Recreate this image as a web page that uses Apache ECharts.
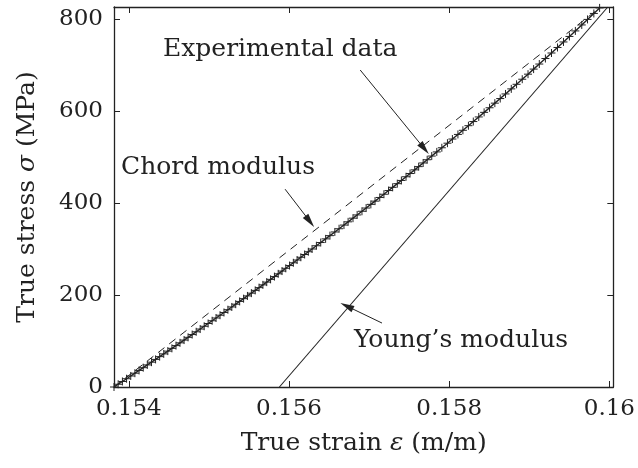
<!DOCTYPE html>
<html><head><meta charset="utf-8">
<script src="https://cdn.jsdelivr.net/npm/echarts@6/dist/echarts.min.js"></script>
<style>html,body{margin:0;padding:0;background:#fff}#c{width:638px;height:468px}</style>
</head><body><div id="c"></div>
<script>
// Experimental data (true strain, true stress in MPa)
const strain = [
0.153815,0.153867,0.153920,0.153972,0.154024,0.154076,0.154128,0.154180,0.154231,0.154283,
0.154334,0.154385,0.154436,0.154487,0.154538,0.154589,0.154639,0.154690,0.154740,0.154791,
0.154841,0.154891,0.154941,0.154990,0.155040,0.155089,0.155139,0.155188,0.155237,0.155286,
0.155335,0.155384,0.155433,0.155481,0.155530,0.155578,0.155626,0.155674,0.155722,0.155770,
0.155818,0.155865,0.155913,0.155960,0.156007,0.156054,0.156101,0.156148,0.156195,0.156241,
0.156288,0.156342,0.156396,0.156457,0.156511,0.156572,0.156625,0.156686,0.156738,0.156799,
0.156851,0.156911,0.156963,0.157022,0.157074,0.157133,0.157185,0.157243,0.157294,0.157352,
0.157403,0.157461,0.157511,0.157569,0.157619,0.157675,0.157725,0.157782,0.157845,0.157908,
0.157978,0.158040,0.158109,0.158171,0.158240,0.158301,0.158369,0.158436,0.158504,0.158570,
0.158637,0.158703,0.158775,0.158841,0.158912,0.158984,0.159054,0.159125,0.159201,0.159277,
0.159352,0.159427,0.159501,0.159575,0.159655,0.159727,0.159806,0.159878
];
const stress = [
0,6,12,18,24,30,36,42,48,54,
60,66,72,78,84,90,96,102,108,114,
120,126,132,138,144,150,156,162,168,174,
180,186,192,198,204,210,216,222,228,234,
240,246,252,258,264,270,276,282,288,294,
300,307,314,322,329,337,344,352,359,367,
374,382,389,397,404,412,419,427,434,442,
449,457,464,472,479,487,494,502,511,520,
530,539,549,558,568,577,587,597,607,617,
627,637,648,658,669,680,691,702,714,726,
738,750,762,774,787,799,812,824
];
// Chord modulus line (dashed)
const chordStrain = [0.153815, 0.159878];
const chordStress = [0, 824];
// Young's modulus line (solid)
const youngStrain = [0.15588, 0.15998];
const youngStress = [0, 826];
// Axes
const xTicks = [0.154, 0.156, 0.158, 0.16];
const yTicks = [0, 200, 400, 600, 800];
const xMin = 0.153815, xMax = 0.160049;
const yMin = 0, yMax = 826;

const pairs = (xs, ys) => xs.map((x, i) => [x, ys[i]]);
const INK = '#222';
const FONT = '"DejaVu Serif", "Liberation Serif", serif';

const chart = echarts.init(document.getElementById('c'), null, {renderer: 'canvas'});

const axisCommon = {
  type: 'value',
  axisLine: {show: true, onZero: false, lineStyle: {color: INK, width: 1.3}},
  splitLine: {show: false},
};

const arrowLine = (from, to) => [{coord: from}, {coord: to}];

chart.setOption({
  animation: false,
  backgroundColor: '#fff',
  grid: {left: 114, right: 20, top: 7, bottom: 81, containLabel: false},
  xAxis: [
    Object.assign({}, axisCommon, {
      min: xMin, max: xMax, position: 'bottom',
      axisTick: {show: true, inside: true, length: 6, customValues: xTicks, lineStyle: {color: INK}},
      axisLabel: {show: true, customValues: xTicks, margin: 11, color: INK, fontFamily: FONT, fontSize: 23,
        formatter: v => String(+v.toFixed(3))},
      name: 'True strain {i|ε} (m/m)', nameLocation: 'middle', nameGap: 44,
      nameTextStyle: {color: INK, fontFamily: FONT, fontSize: 25, verticalAlign: 'top',
        rich: {i: {fontStyle: 'italic', fontFamily: FONT, fontSize: 25, color: INK}}}
    }),
    Object.assign({}, axisCommon, {
      min: xMin, max: xMax, position: 'top',
      axisTick: {show: true, inside: true, length: 6, customValues: xTicks, lineStyle: {color: INK}},
      axisLabel: {show: false}
    })
  ],
  yAxis: [
    Object.assign({}, axisCommon, {
      min: yMin, max: yMax, position: 'left',
      axisTick: {show: true, inside: true, length: 6, customValues: yTicks, lineStyle: {color: INK}},
      axisLabel: {show: true, customValues: yTicks, margin: 11, color: INK, fontFamily: FONT, fontSize: 23},
      name: 'True stress {i|σ} (MPa)', nameLocation: 'middle', nameGap: 74, nameRotate: 90,
      nameTextStyle: {color: INK, fontFamily: FONT, fontSize: 25,
        rich: {i: {fontStyle: 'italic', fontFamily: FONT, fontSize: 25, color: INK}}}
    }),
    Object.assign({}, axisCommon, {
      min: yMin, max: yMax, position: 'right',
      axisTick: {show: true, inside: true, length: 6, customValues: yTicks, lineStyle: {color: INK}},
      axisLabel: {show: false}
    })
  ],
  series: [
    {
      name: 'Chord modulus', type: 'line', data: pairs(chordStrain, chordStress),
      showSymbol: false, silent: true,
      lineStyle: {color: INK, width: 1, type: [8, 6]}
    },
    {
      name: "Young's modulus", type: 'line', data: pairs(youngStrain, youngStress),
      showSymbol: false, silent: true,
      lineStyle: {color: INK, width: 1.1}
    },
    {
      name: 'Experimental data', type: 'line', data: pairs(strain, stress),
      symbol: 'path://M0,4L8,4M4,0L4,8', symbolSize: 8, showSymbol: true, silent: true,
      itemStyle: {color: 'rgba(0,0,0,0)', borderColor: INK, borderWidth: 1},
      lineStyle: {color: INK, width: 1.4},
      markLine: {
        silent: true, animation: false,
        symbol: ['none', 'triangle'], symbolSize: [7, 14],
        label: {show: false},
        lineStyle: {color: INK, width: 1, type: 'solid'},
        itemStyle: {color: INK},
        data: [
          arrowLine([0.156889, 689], [0.157690, 518]),
          arrowLine([0.155951, 430], [0.156260, 360]),
          arrowLine([0.157161, 139], [0.156720, 176])
        ]
      }
    }
  ],
  graphic: [
    {type: 'text', x: 163, y: 49, style: {text: 'Experimental data', font: '25px ' + FONT, fill: INK, verticalAlign: 'middle'}},
    {type: 'text', x: 121, y: 167, style: {text: 'Chord modulus', font: '25px ' + FONT, fill: INK, verticalAlign: 'middle'}},
    {type: 'text', x: 354, y: 340, style: {text: 'Young\u2019s modulus', font: '25px ' + FONT, fill: INK, verticalAlign: 'middle'}}
  ]
});
</script>
</body></html>
